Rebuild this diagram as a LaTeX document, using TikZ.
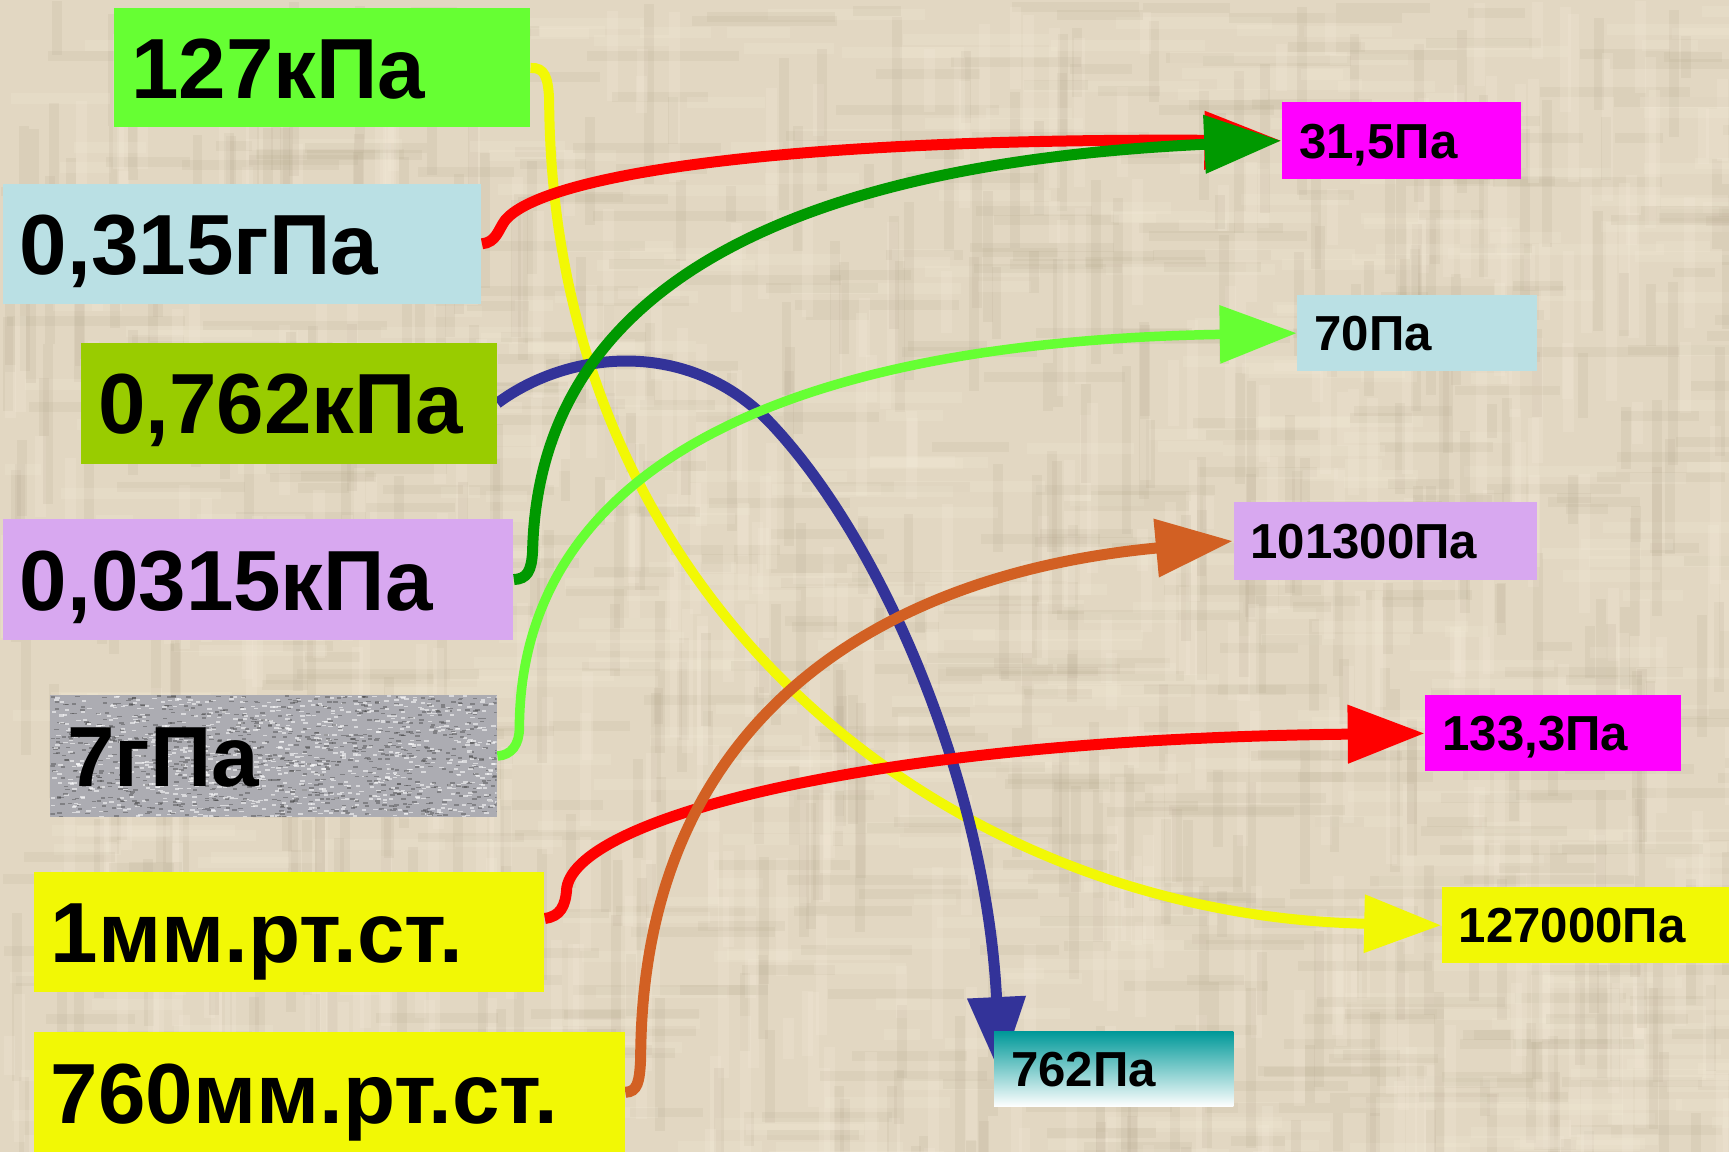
\documentclass[tikz,border=0pt]{standalone}
\usepackage{fontspec}
\setmainfont{Liberation Sans}
\usetikzlibrary{arrows.meta, positioning, calc}

\definecolor{canvas}{RGB}{226,215,194}
\definecolor{canvaslight}{RGB}{243,234,216}
\definecolor{canvasdark}{RGB}{176,162,136}
\definecolor{boxgreen}{RGB}{102,255,51}
\definecolor{boxcyan}{RGB}{186,224,228}
\definecolor{boxolive}{RGB}{153,204,0}
\definecolor{boxlilac}{RGB}{216,168,240}
\definecolor{boxyellow}{RGB}{242,248,5}
\definecolor{boxmagenta}{RGB}{255,0,255}
\definecolor{boxteal}{RGB}{0,153,153}
\definecolor{boxgrey}{RGB}{172,172,178}
\definecolor{linkred}{RGB}{255,0,0}
\definecolor{linkgreen}{RGB}{0,153,0}
\definecolor{linkblue}{RGB}{51,51,153}
\definecolor{linklime}{RGB}{102,255,51}
\definecolor{linkyellow}{RGB}{242,248,5}
\definecolor{linkorange}{RGB}{210,96,35}

\pgfdeclarelayer{back}
\pgfdeclarelayer{links}
\pgfsetlayers{back,links,main}

\tikzset{
  bigbox/.style={anchor=north west, inner xsep=0.17cm, inner ysep=0pt, align=left,
    font=\bfseries\fontsize{24.3}{25}\selectfont, text height=17.5pt, text depth=0pt},
  smallbox/.style={anchor=north west, inner xsep=0.17cm, inner ysep=0pt, align=left,
    font=\bfseries\fontsize{14}{14}\selectfont, text height=10pt, text depth=0pt},
  link/.style={line width=1.1mm, -{Triangle[length=7.7mm,width=5.6mm]}}
}

\begin{document}
\begin{tikzpicture}[x=0.011027cm, y=-0.011027cm]
        \useasboundingbox (0,0) rectangle (1568,1044.7);
        % canvas background
        \begin{pgfonlayer}{back}
            \fill[canvas] (0,0) rectangle (1568,1044.7);
            \begin{scope}
                \clip (0,0) rectangle (1568,1044.7);
                \pgfmathsetseed{4}
                \foreach \i in {1,...,420}{
                    \pgfmathsetmacro{\bgx}{rnd*1568}
                    \pgfmathsetmacro{\bgy}{rnd*1045}
                    \pgfmathsetmacro{\bgl}{30+rnd*140}
                    \fill[canvasdark, fill opacity=.14] (\bgx,\bgy) rectangle ++(9,\bgl);
                    \pgfmathsetmacro{\bgx}{rnd*1568}
                    \pgfmathsetmacro{\bgy}{rnd*1045}
                    \fill[canvaslight, fill opacity=.25] (\bgx,\bgy) rectangle ++(10,\bgl);
                    \pgfmathsetmacro{\bgx}{rnd*1568}
                    \pgfmathsetmacro{\bgy}{rnd*1045}
                    \fill[canvasdark, fill opacity=.12] (\bgx,\bgy) rectangle ++(\bgl,9);
                    \pgfmathsetmacro{\bgx}{rnd*1568}
                    \pgfmathsetmacro{\bgy}{rnd*1045}
                    \fill[canvaslight, fill opacity=.22] (\bgx,\bgy) rectangle ++(\bgl,10);
                }
            \end{scope}
        \end{pgfonlayer}

        % left column of values
        \node[bigbox, fill=boxgreen, text width=3.817cm, minimum height=1.191cm] (kpa127) at (103,7) {127кПа};
        \node[bigbox, fill=boxcyan, text width=4.446cm, minimum height=1.202cm] (gpa0315) at (2,166) {0,315гПа};
        \node[bigbox, fill=boxolive, text width=3.817cm, minimum height=1.213cm] (kpa0762) at (73,310) {0,762кПа};
        \node[bigbox, fill=boxlilac, text width=4.765cm, minimum height=1.213cm] (kpa00315) at (2,470) {0,0315кПа};
        \node[bigbox, fill=boxgrey, text width=4.126cm, minimum height=1.213cm,
            path picture={
                \foreach \s in {1,...,900}{
                    \pgfmathsetmacro{\spx}{rnd*405}
                    \pgfmathsetmacro{\spy}{rnd*110}
                    \fill[white, fill opacity=.55] ($(path picture bounding box.north west)+(\spx,\spy)$) rectangle ++(4,1.5);
                    \pgfmathsetmacro{\spx}{rnd*405}
                    \pgfmathsetmacro{\spy}{rnd*110}
                    \fill[black!75, fill opacity=.4] ($(path picture bounding box.north west)+(\spx,\spy)$) rectangle ++(4,1.5);
                }
            }] (gpa7) at (45,630) {7гПа};
        \node[bigbox, fill=boxyellow, text width=4.766cm, minimum height=1.202cm] (mm1) at (30,790) {1мм.рт.ст.};
        \node[bigbox, fill=boxyellow, text width=5.571cm, minimum height=1.213cm] (mm760) at (30,935) {760мм.рт.ст.};

        % right column of values in Pa
        \node[smallbox, fill=boxmagenta, text width=2.053cm, minimum height=0.772cm] (pa315) at (1162,92) {31,5Па};
        \node[smallbox, fill=boxcyan, text width=2.053cm, minimum height=0.761cm] (pa70) at (1176,267) {70Па};
        \node[smallbox, fill=boxlilac, text width=2.692cm, minimum height=0.772cm] (pa101300) at (1118,455) {101300Па};
        \node[smallbox, fill=boxmagenta, text width=2.218cm, minimum height=0.761cm] (pa1333) at (1292,630) {133,3Па};
        \node[smallbox, fill=boxyellow, text width=2.538cm, minimum height=0.761cm] (pa127000) at (1307,804) {127000Па};
        \node[smallbox, top color=boxteal, bottom color=white, text width=2.053cm, minimum height=0.75cm] (pa762) at (901,935) {762Па};

        % connectors
        \begin{pgfonlayer}{links}
            \draw[link, linkyellow, line width=1mm] (kpa127.east) .. controls (494,61) and (497,70) .. (498,90)
                .. controls (500,550) and (860,830) .. (pa127000.west);
            \draw[link, linkblue] (kpa0762.east) .. controls (515,318) and (625,305) .. (700,385)
                .. controls (805,497) and (895,720) .. ($(pa762.north west)+(6,39)$);
            \draw[link, linkred] (gpa0315.east) .. controls (450,220) and (452,208) .. (458,200)
                .. controls (490,160) and (700,125) .. (pa315.west);
            \draw[link, linkgreen] (kpa00315.east) .. controls (478,525) and (482,518) .. (483,500)
                .. controls (488,280) and (680,150) .. (pa315.west);
            \draw[link, linklime, line width=0.95mm] (gpa7.east) .. controls (464,685) and (471,675) .. (471,660)
                .. controls (472,430) and (700,310) .. (pa70.west);
            \draw[link, linkred] (mm1.3) .. controls (508,831) and (513,822) .. (514,805)
                .. controls (525,740) and (800,670) .. (pa1333.west);
            \draw[link, linkorange] (mm760.east) .. controls (578,990) and (580,982) .. (581,960)
                .. controls (582,650) and (800,520) .. (pa101300.west);
        \end{pgfonlayer}
    \end{tikzpicture}
\end{document}
